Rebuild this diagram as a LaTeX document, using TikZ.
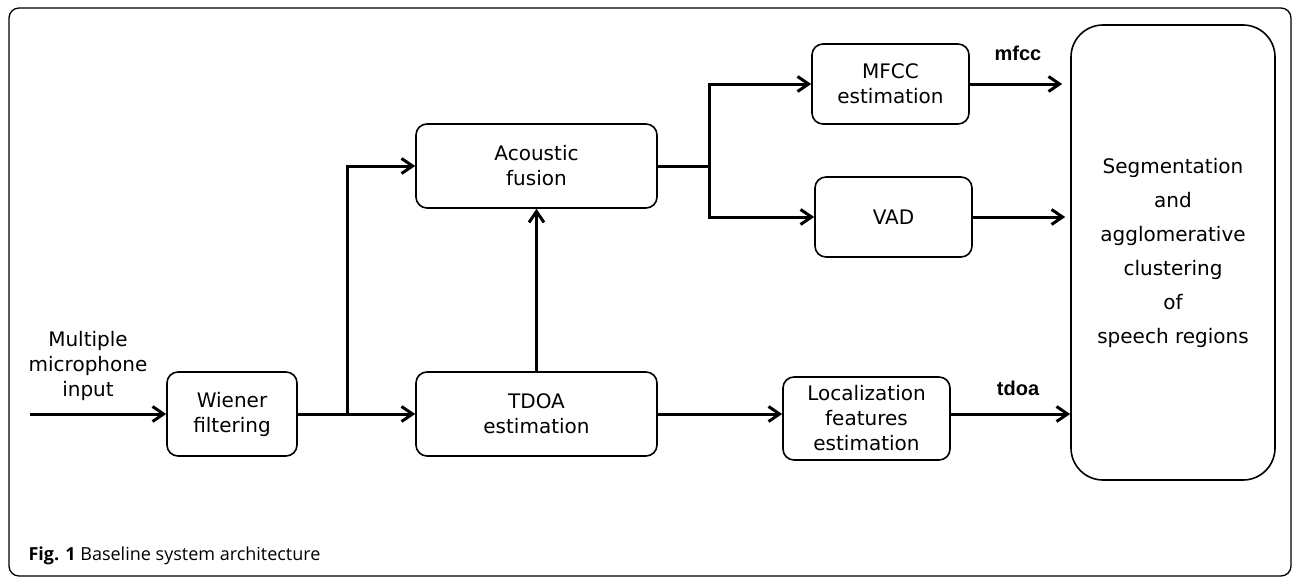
\documentclass[tikz,border=0pt]{standalone}
\usepackage{fontspec}
\setmainfont{DejaVu Sans}
\newfontfamily\tagfont{Liberation Sans}
\newfontfamily\capfont{Open Sans}
\usetikzlibrary{positioning, arrows.meta, calc}

\begin{document}
\begin{tikzpicture}[
        x=1pt, y=-1pt, >={Straight Barb[length=11pt, width=15pt]},
        font=\fontsize{20}{25}\selectfont,
        box/.style={draw, line width=1.6pt, rounded corners=11pt, align=center, inner sep=0pt},
        arr/.style={->, line width=3pt},
        wire/.style={line width=3pt},
        tag/.style={font=\tagfont\bfseries\fontsize{20}{24}\selectfont}]
        \useasboundingbox (0,0) rectangle (1293,578);
        \draw[line width=1.3pt, rounded corners=10pt] (9,8) rectangle (1291,576);

        % processing blocks
        \node[box, minimum width=130pt, minimum height=84pt] (wiener) at (232,414) {Wiener\\filtering};
        \node[box, minimum width=241pt, minimum height=84pt] (fusion) at (536.5,166) {Acoustic\\fusion};
        \node[box, minimum width=241pt, minimum height=84pt] (tdoa) at (536.5,414) {TDOA\\estimation};
        \node[box, minimum width=157pt, minimum height=80pt] (mfcc) at (890.5,84) {MFCC\\estimation};
        \node[box, minimum width=157pt, minimum height=80pt] (vad) at (893.5,217) {VAD};
        \node[box, minimum width=167pt, minimum height=83pt] (loc) at (866.5,418.5) {Localization\\features\\estimation};
        \node[box, rounded corners=32pt, minimum width=204pt, minimum height=455pt,
              font=\fontsize{20}{34}\selectfont] (seg) at (1173,252.5)
              {Segmentation\\and\\agglomerative\\clustering\\of\\speech regions};

        \node[align=center] (input) at (88,366) {Multiple\\microphone\\input};
        \node[tag] (mfcctag) at (1018,53) {mfcc};
        \node[tag] (tdoatag) at (1018,388) {tdoa};
        \node[anchor=base west, font=\capfont\fontsize{18}{22}\selectfont] (caption) at (25,560)
              {\textbf{Fig. 1} Baseline system architecture};

        \coordinate (in) at (30,414);
        \coordinate (split) at (347,414);
        \coordinate (fork) at (709,166);

        \draw[arr] (in) -- (wiener);
        \draw[wire] (wiener) -- (split);
        \draw[arr] (split) -- (tdoa);
        \draw[arr] (split) |- (fusion);
        \draw[arr] (tdoa) -- (fusion);
        \draw[wire] (fusion) -- (fork);
        \draw[arr] (fork) |- (mfcc);
        \draw[arr] (fork) |- (vad);
        \draw[arr] (tdoa) -- (tdoa -| loc.west);
        \draw[arr, shorten >=8pt] (mfcc) -- (mfcc -| seg.west);
        \draw[arr, shorten >=5pt] (vad) -- (vad -| seg.west);
        \draw[arr] (loc.east |- tdoa) -- (tdoa -| seg.west);
      \end{tikzpicture}
\end{document}
